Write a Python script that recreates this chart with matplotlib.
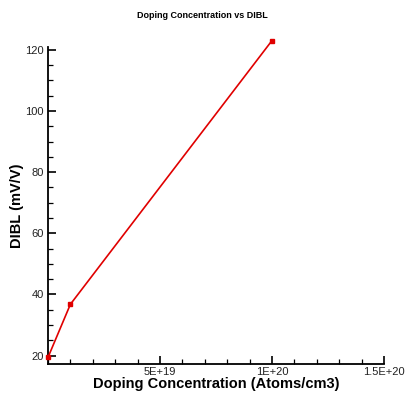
import matplotlib.pyplot as plt
from matplotlib.ticker import MultipleLocator, FuncFormatter

plt.rcParams["font.family"] = ["Liberation Sans", "DejaVu Sans"]

doping = [1e17, 1e19, 1e20]
dibl = [19.6, 36.8, 123.0]
x_ticks = [5e19, 1e20, 1.5e20]
x_tick_labels = ["5E+19", "1E+20", "1.5E+20"]

fig = plt.figure(figsize=(4.05, 3.96), dpi=100)
ax = fig.add_axes([0.1185, 0.081, 0.8295, 0.801])

ax.plot(doping, dibl, color="#e00000", lw=1.2, marker="s", ms=2.8,
        clip_on=False, zorder=3)

ax.set_xlim(0, 1.5e20)
ax.set_ylim(17.3, 121)
ax.set_xticks(x_ticks)
ax.set_xticklabels(x_tick_labels)
ax.xaxis.set_minor_locator(MultipleLocator(1e19))
ax.yaxis.set_major_locator(MultipleLocator(20))
ax.yaxis.set_minor_locator(MultipleLocator(5))
ax.yaxis.set_major_formatter(FuncFormatter(lambda v, p: f"{v:.0f}"))

for s in ["top", "right"]:
    ax.spines[s].set_visible(False)
for s in ["left", "bottom"]:
    ax.spines[s].set_linewidth(1.3)

ax.tick_params(which="major", direction="in", length=6, width=1.2, labelsize=8, pad=2,
               labelcolor="#222222")
ax.tick_params(which="minor", direction="in", length=3.5, width=0.9)
ax.yaxis.set_tick_params(which="major", pad=3)

ax.set_xlabel("Doping Concentration (Atoms/cm3)", fontsize=10.5, fontweight="bold", labelpad=0)
ax.set_ylabel("DIBL (mV/V)", fontsize=10.5, fontweight="bold", labelpad=1)
fig.text(0.5, 0.96, "Doping Concentration vs DIBL", ha="center", va="center",
         fontsize=6.5, fontweight="bold")

fig.savefig("out.png", dpi=100)
